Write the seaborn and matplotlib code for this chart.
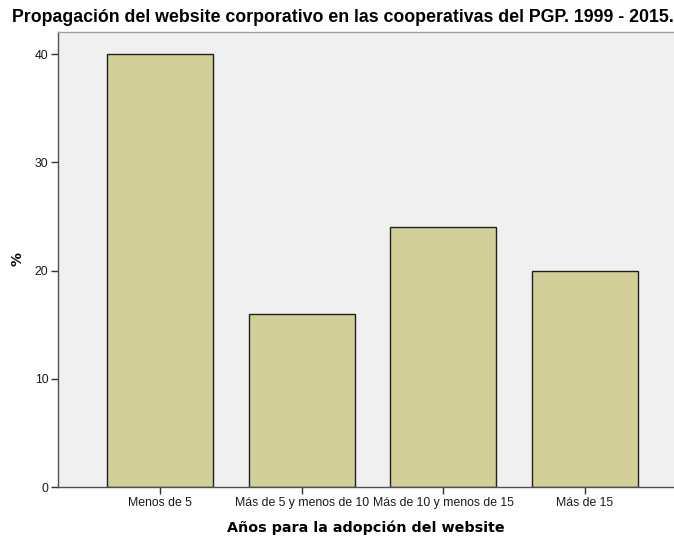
import matplotlib
matplotlib.use("Agg")
import matplotlib.pyplot as plt
import seaborn as sns
import pandas as pd

categories = ["Menos de 5", "Más de 5 y menos de 10", "Más de 10 y menos de 15", "Más de 15"]
values = [40, 16, 24, 20]
yticks = [0, 10, 20, 30, 40]

sns.set_style("white")
plt.rcParams['font.family'] = ['Liberation Sans', 'DejaVu Sans']
plt.rcParams['text.color'] = 'black'
plt.rcParams['axes.labelcolor'] = 'black'
plt.rcParams['xtick.color'] = 'black'
plt.rcParams['ytick.color'] = 'black'

df = pd.DataFrame({"cat": categories, "pct": values})

fig = plt.figure(figsize=(6.74, 5.39), dpi=100)
W, H = 674, 539
ax = fig.add_axes([58 / W, 1 - 487 / H, 1 - 58 / W, (487 - 32) / H])
ax.set_facecolor("#F0F0F0")

sns.barplot(data=df, x="cat", y="pct", ax=ax, color="#D3CF98", saturation=1,
            width=0.75, edgecolor="#202020", linewidth=1.0, errorbar=None)

ax.set_xlim(-0.724, 3.63)
ax.set_ylim(0, 42.06)
ax.set_yticks(yticks)
ax.set_yticklabels([str(t) for t in yticks])

for s in ["left", "bottom"]:
    ax.spines[s].set_color("#505050")
    ax.spines[s].set_linewidth(1.0)
ax.spines["top"].set_color("#A0A0A0")
ax.spines["top"].set_linewidth(1.0)
ax.spines["right"].set_visible(False)

ax.tick_params(axis="both", which="both", direction="out", length=5, width=1,
               color="#303030", labelcolor="#1A1A1A", labelsize=8.8, pad=2,
               left=True, bottom=True)

ax.set_xlabel("Años para la adopción del website", fontsize=10.3, fontweight="bold",
              family=["DejaVu Sans"], color="black")
ax.xaxis.set_label_coords(0.5, -(528 - 487) / (487 - 32))
ax.xaxis.label.set_va("center")
ax.set_ylabel("%", fontsize=10, fontweight="bold", family=["DejaVu Sans"], color="black")
ax.yaxis.set_label_coords(-(58 - 17) / (674 - 58), 0.5)
ax.yaxis.label.set_va("center")

fig.text(12 / W, 1 - 17.5 / H, "Propagación del website corporativo en las cooperativas del PGP. 1999 - 2015.",
         fontsize=12.8, fontweight="bold", ha="left", va="center", color="black")

fig.savefig("out.png", dpi=100, facecolor="white")
